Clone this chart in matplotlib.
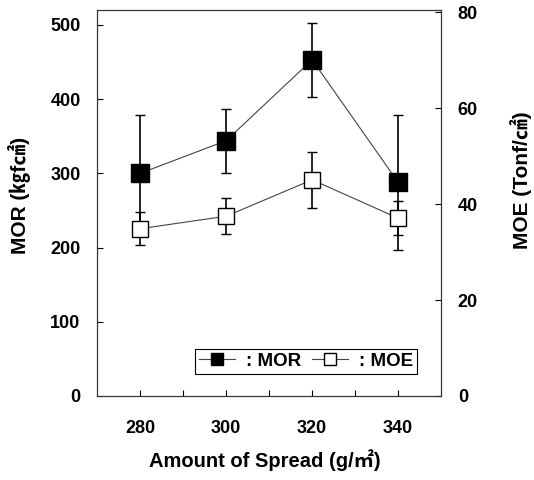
import matplotlib
matplotlib.use("Agg")
import matplotlib.pyplot as plt
from matplotlib.lines import Line2D

plt.rcParams['font.family'] = ['Liberation Sans', 'Noto Sans CJK KR', 'DejaVu Sans']
plt.rcParams['font.weight'] = 'bold'

spread = [280, 300, 320, 340]
mor = [300, 344, 453, 288]
mor_err = [78, 43, 50, 91]
moe = [34.9, 37.5, 45.1, 37.1]
moe_err = [3.4, 3.7, 5.9, 3.6]

fig = plt.figure(figsize=(5.34, 4.8), dpi=100)
ax = fig.add_axes([0.182, 0.175, 0.644, 0.804])
ax2 = ax.twinx()

# MOR, filled squares, left axis
ax.errorbar(spread, mor, yerr=mor_err, fmt='none', ecolor='black', elinewidth=1.2, capsize=3.5, capthick=1.0, zorder=2)
ax.plot(spread, mor, '-', color='#444444', lw=0.8, marker='s', ms=12.5, mfc='black', mec='black', zorder=3)

# MOE, open squares, right axis
ax2.errorbar(spread, moe, yerr=moe_err, fmt='none', ecolor='black', elinewidth=1.2, capsize=3.5, capthick=1.0, zorder=2)
ax2.plot(spread, moe, '-', color='#444444', lw=0.8, marker='s', ms=11.5, mfc='white', mec='black', mew=1.0, zorder=3)

ax.set_xlim(270, 350)
ax.set_ylim(0, 520)
ax2.set_ylim(0, 80.5)
ax.set_xticks([280, 300, 320, 340])
ax.set_xticks([290, 310, 330], minor=True)
ax.set_yticks([0, 100, 200, 300, 400, 500])
ax2.set_yticks([0, 20, 40, 60, 80])

for a in (ax, ax2):
    a.tick_params(which='both', direction='in', length=4, width=0.8, labelsize=13)
    for s in a.spines.values():
        s.set_linewidth(0.8)
        s.set_color('#333333')
ax.tick_params(axis='y', pad=12)
ax.tick_params(axis='x', pad=17)
ax2.tick_params(axis='y', pad=12)
for lab in ax.get_xticklabels() + ax.get_yticklabels() + ax2.get_yticklabels():
    lab.set_fontweight('bold')

ax.set_xlabel('Amount of Spread (g/㎡)', fontsize=14.5, fontweight='bold')
ax.set_ylabel('MOR (㎏f㎠)', fontsize=15, fontweight='bold')
ax2.set_ylabel('MOE (Tonf/㎠)', fontsize=15, fontweight='bold', rotation=90)
ax.xaxis.set_label_coords(0.488, -0.138)
ax.yaxis.set_label_coords(-0.195, 0.52)
ax2.yaxis.set_label_coords(1.20, 0.56)

handles = [
    Line2D([], [], color='#444444', lw=0.8, marker='s', ms=9, mfc='black', mec='black'),
    Line2D([], [], color='#444444', lw=0.8, marker='s', ms=9, mfc='white', mec='black'),
]
leg = ax2.legend(handles, [': MOR', ': MOE'], loc='lower right', ncol=2, bbox_to_anchor=(0.93, 0.058),
                 fancybox=False, edgecolor='black', framealpha=1, handlelength=1.9, handletextpad=0.6,
                 columnspacing=0.6, borderpad=0.2, borderaxespad=0.0, prop={'weight': 'bold', 'size': 13.5})
leg.get_frame().set_linewidth(0.8)

fig.savefig('out.png', dpi=100)
